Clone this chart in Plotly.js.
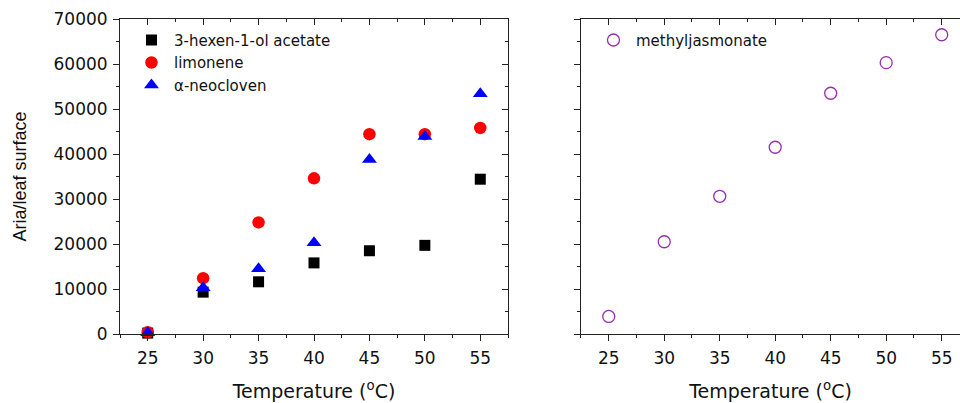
<!DOCTYPE html>
<html>
<head>
<meta charset="utf-8">
<script src="https://cdn.plot.ly/plotly-3.0.1.min.js"></script>
<style>html,body{margin:0;padding:0;background:#fff;}#chart{width:960px;height:403px;}</style>
</head>
<body>
<div id="chart"></div>
<script>
const temperature = [25, 30, 35, 40, 45, 50, 55];
const hexenylAcetate = [200, 9300, 11600, 15800, 18500, 19700, 34400];
const limonene = [400, 12400, 24800, 34600, 44400, 44400, 45800];
const neocloven = [300, 10300, 14500, 20300, 38800, 43900, 53400];
const methylJasmonate = [3900, 20500, 30600, 41500, 53500, 60300, 66500];
const yTickVals = [0, 10000, 20000, 30000, 40000, 50000, 60000, 70000];
const yTickText = ['0', '10000', '20000', '30000', '40000', '50000', '60000', '70000'];
const xTickVals = [25, 30, 35, 40, 45, 50, 55];
const xTickText = ['25', '30', '35', '40', '45', '50', '55'];

const axisColor = '#222';
const tickFont = {family: 'DejaVu Sans', size: 17, color: '#111'};
const titleFont = {family: 'DejaVu Sans', size: 19, color: '#111'};

const traces = [
  {x: temperature, y: hexenylAcetate, name: '3-hexen-1-ol acetate', type: 'scatter', mode: 'markers',
   marker: {symbol: 'square', size: 11, color: '#000'}, xaxis: 'x', yaxis: 'y', cliponaxis: false},
  {x: temperature, y: limonene, name: 'limonene', type: 'scatter', mode: 'markers',
   marker: {symbol: 'circle', size: 12.5, color: '#ff0000'}, xaxis: 'x', yaxis: 'y', cliponaxis: false},
  {x: temperature, y: neocloven, name: 'α-neocloven', type: 'scatter', mode: 'markers',
   marker: {symbol: 'triangle-up', size: 13, color: '#0000ff'}, xaxis: 'x', yaxis: 'y', cliponaxis: false},
  {x: temperature, y: methylJasmonate, name: 'methyljasmonate', type: 'scatter', mode: 'markers',
   marker: {symbol: 'circle-open', size: 12, color: '#9530ad', line: {width: 1.3, color: '#9530ad'}},
   xaxis: 'x2', yaxis: 'y2', legend: 'legend2', cliponaxis: false}
];

function xAxis(domain, range, anchor) {
  return {
    domain: domain, range: range, anchor: anchor,
    showline: true, linecolor: axisColor, linewidth: 1, mirror: false,
    showgrid: false, zeroline: false,
    ticks: 'outside', ticklen: 6, tickwidth: 1, tickcolor: axisColor,
    tickmode: 'array', tickvals: xTickVals, ticktext: xTickText, tickfont: tickFont, ticklabelstandoff: 3,
    minor: {dtick: 2.5, tick0: 22.5, ticks: 'outside', ticklen: 3, tickwidth: 1, tickcolor: axisColor, showgrid: false},
    title: {text: 'Temperature (<sup>o</sup>C)', font: titleFont, standoff: 17}
  };
}
function yAxis(domainAnchor, showLabels) {
  return {
    domain: [0, 1], range: [0, 70000], anchor: domainAnchor,
    showline: true, linecolor: axisColor, linewidth: 1,
    showgrid: false, zeroline: false,
    ticks: 'outside', ticklen: 6, tickwidth: 1, tickcolor: axisColor,
    tickmode: 'array', tickvals: yTickVals, ticktext: yTickText,
    showticklabels: showLabels, tickfont: tickFont, ticklabelstandoff: 2,
    minor: {dtick: 5000, ticks: 'outside', ticklen: 3, tickwidth: 1, tickcolor: axisColor, showgrid: false}
  };
}
function mirrorX(over, range, anchorY) {
  return {overlaying: over, range: range, side: 'top', anchor: anchorY,
    showline: true, linecolor: axisColor, linewidth: 1, showgrid: false, zeroline: false,
    ticks: 'inside', ticklen: 6, tickwidth: 1, tickcolor: axisColor, tickmode: 'array', tickvals: xTickVals,
    showticklabels: false,
    minor: {dtick: 2.5, tick0: 22.5, ticks: 'inside', ticklen: 3, tickwidth: 1, tickcolor: axisColor, showgrid: false}};
}

const d1 = [0, 0.4619];
const d2 = [0.5488, 1];
const r1 = [22.5, 57.5];
const r2 = [22.5, 56.65];

const layout = {
  width: 960, height: 403,
  margin: {l: 120, r: 0, t: 19, b: 69},
  paper_bgcolor: '#fff', plot_bgcolor: '#fff',
  font: {family: 'DejaVu Sans', color: '#111'},
  showlegend: true,
  xaxis: xAxis(d1, r1, 'y'),
  yaxis: Object.assign(yAxis('x', true), {
    title: {text: 'Aria/leaf surface', font: {family: 'Liberation Sans', size: 18, color: '#111'}, standoff: 22}
  }),
  xaxis2: xAxis(d2, r2, 'y2'),
  yaxis2: yAxis('x2', false),
  xaxis3: mirrorX('x', r1, 'y'),
  yaxis3: {overlaying: 'y', range: [0, 70000], side: 'right', anchor: 'x',
    showline: true, linecolor: axisColor, linewidth: 1, showgrid: false, zeroline: false,
    ticks: 'inside', ticklen: 6, tickwidth: 1, tickcolor: axisColor, tickmode: 'array', tickvals: yTickVals, showticklabels: false,
    minor: {dtick: 5000, ticks: 'inside', ticklen: 3, tickwidth: 1, tickcolor: axisColor, showgrid: false}},
  xaxis4: mirrorX('x2', r2, 'y2'),
  legend: {x: 0.0107, y: 0.985, xanchor: 'left', yanchor: 'top', xref: 'paper', yref: 'paper',
    itemwidth: 35,
    bgcolor: 'rgba(0,0,0,0)', borderwidth: 0, font: {family: 'DejaVu Sans', size: 15, color: '#111'}},
  legend2: {x: 0.5607, y: 0.985, xanchor: 'left', yanchor: 'top', xref: 'paper', yref: 'paper',
    itemwidth: 35,
    bgcolor: 'rgba(0,0,0,0)', borderwidth: 0, font: {family: 'DejaVu Sans', size: 15, color: '#111'}}
};

// empty helper traces so the mirrored (inside-tick) axes are drawn
traces.push({x: [], y: [], xaxis: 'x3', yaxis: 'y', showlegend: false, type: 'scatter', hoverinfo: 'skip'});
traces.push({x: [], y: [], xaxis: 'x', yaxis: 'y3', showlegend: false, type: 'scatter', hoverinfo: 'skip'});
traces.push({x: [], y: [], xaxis: 'x4', yaxis: 'y2', showlegend: false, type: 'scatter', hoverinfo: 'skip'});

Plotly.newPlot('chart', traces, layout, {displayModeBar: false, staticPlot: true});
</script>
</body>
</html>
